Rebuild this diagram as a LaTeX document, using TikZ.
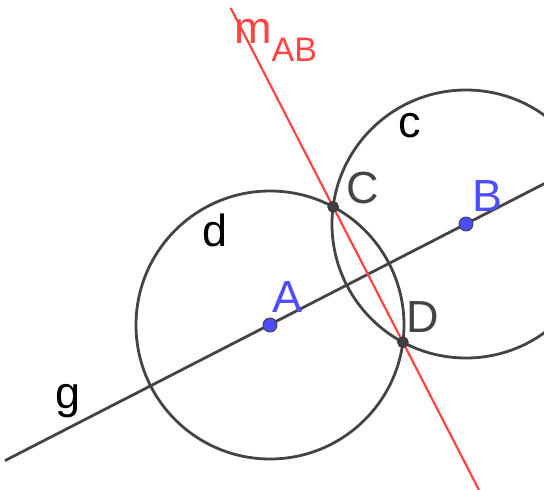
\documentclass[tikz,border=0pt]{standalone}
\usepackage{fontspec}
\setmainfont{Liberation Sans}
\usetikzlibrary{calc}
\definecolor{geogray}{HTML}{444444}
\definecolor{geored}{HTML}{FF4444}
\definecolor{geoblue}{HTML}{4D4DFF}
\definecolor{ptgray}{HTML}{404040}
\begin{document}
\begin{tikzpicture}[x=1pt,y=-1pt,
  circ/.style={draw=geogray,line width=2.8pt},
  gline/.style={draw=geogray,line width=2.8pt},
  mline/.style={draw=geored,line width=2.2pt},
  bluept/.style={circle,fill=geoblue,draw=ptgray,line width=0.9pt,inner sep=0pt,minimum size=14pt},
  graypt/.style={circle,fill=ptgray,draw=black!80,line width=0.6pt,inner sep=0pt,minimum size=11pt},
  lbl/.style={font=\fontsize{45}{50}\selectfont,inner sep=0pt,anchor=base west},
  bluelbl/.style={lbl,text=geoblue},
  graylbl/.style={lbl,text=geogray},
  blacklbl/.style={lbl,text=black}]
\useasboundingbox (0,0) rectangle (544,490);
\begin{scope}
\clip (0,0) rectangle (544,490);
\coordinate (A0) at (270,325);
\coordinate (B0) at (466,224);
\coordinate (C0) at (333.1,206.8);
\coordinate (D0) at (402.9,342.2);
\coordinate (g1) at (5,460.6);
\coordinate (g2) at (560,175.6);
\coordinate (m1) at (230.7,8);
\coordinate (m2) at (479,490);
\draw[circ] (A0) circle (134);
\draw[circ] (B0) circle (134);
\draw[gline] (g1) -- (g2);
\draw[mline] (m1) -- (m2);
\end{scope}
\node[bluept] (A) at (A0) {};
\node[bluept] (B) at (B0) {};
\node[graypt] (C) at (C0) {};
\node[graypt] (D) at (D0) {};
\node[lbl,text=geored] (mlab) at (234,43) {m\raisebox{-18pt}{\fontsize{34}{38}\selectfont AB}};
\node[blacklbl] (clab) at (398,137) {c};
\node[graylbl] (Clab) at (346,203) {C};
\node[bluelbl] (Blab) at (472,211) {B};
\node[blacklbl] (dlab) at (202,246) {d};
\node[bluelbl] (Alab) at (272,312) {A};
\node[graylbl] (Dlab) at (406,332) {D};
\node[blacklbl] (glab) at (55,408) {g};
\end{tikzpicture}
\end{document}
